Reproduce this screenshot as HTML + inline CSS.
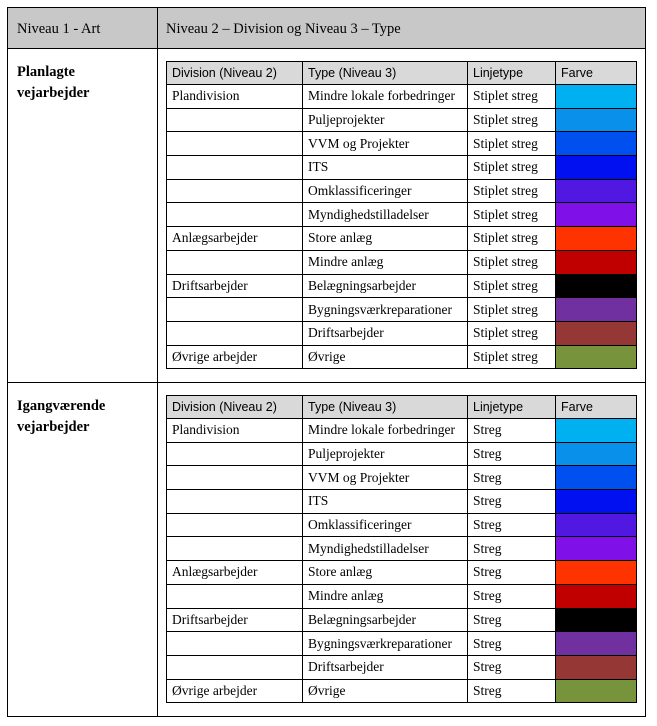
<!DOCTYPE html>
<html><head><meta charset="utf-8"><style>
body{margin:0;width:657px;height:726px;background:#fff;position:relative;font-family:"Liberation Serif",serif;color:#000;overflow:hidden}
.a{position:absolute}
.hl{position:absolute;background:#000;height:1px}
.vl{position:absolute;background:#000;width:1px}
table{position:absolute;left:166px;border-collapse:collapse;table-layout:fixed}
td{border:1px solid #000;padding:0 0 0 5px;font-size:13.5px;white-space:nowrap;overflow:hidden}
tr.h td{background:#d9d9d9;font-family:"Liberation Sans",sans-serif;font-size:12.5px;height:22px}
tr.r td{height:22.7px}
td.c{padding:0}
</style></head><body>
<div class="a" style="left:7px;top:7px;width:639px;height:41px;background:#c8c8c8"></div>
<div class="hl" style="left:7px;top:7px;width:639px"></div>
<div class="hl" style="left:7px;top:48px;width:639px"></div>
<div class="hl" style="left:7px;top:382px;width:639px"></div>
<div class="hl" style="left:7px;top:716px;width:639px"></div>
<div class="vl" style="left:7px;top:7px;height:710px"></div>
<div class="vl" style="left:157px;top:7px;height:710px"></div>
<div class="vl" style="left:645px;top:7px;height:710px"></div>
<div class="a" style="left:17px;top:21px;font-size:14.5px">Niveau 1 - Art</div>
<div class="a" style="left:166px;top:21px;font-size:14.5px">Niveau 2 – Division og Niveau 3 – Type</div>
<div class="a" style="left:17px;top:62px;font-size:14.5px;font-weight:bold;line-height:21px">Planlagte<br>vejarbejder</div>
<div class="a" style="left:17px;top:396px;font-size:14.5px;font-weight:bold;line-height:21px">Igangværende<br>vejarbejder</div>

<table style="top:61px"><colgroup><col style="width:136px"><col style="width:165px"><col style="width:88px"><col style="width:81px"></colgroup>
<tr class="h"><td>Division (Niveau 2)</td><td>Type (Niveau 3)</td><td>Linjetype</td><td>Farve</td></tr>
<tr class="r"><td>Plandivision</td><td>Mindre lokale forbedringer</td><td>Stiplet streg</td><td class="c" style="background:#00b0f0"></td></tr>
<tr class="r"><td></td><td>Puljeprojekter</td><td>Stiplet streg</td><td class="c" style="background:#0890ea"></td></tr>
<tr class="r"><td></td><td>VVM og Projekter</td><td>Stiplet streg</td><td class="c" style="background:#0050f0"></td></tr>
<tr class="r"><td></td><td>ITS</td><td>Stiplet streg</td><td class="c" style="background:#0010f0"></td></tr>
<tr class="r"><td></td><td>Omklassificeringer</td><td>Stiplet streg</td><td class="c" style="background:#5018e0"></td></tr>
<tr class="r"><td></td><td>Myndighedstilladelser</td><td>Stiplet streg</td><td class="c" style="background:#8010e8"></td></tr>
<tr class="r"><td>Anlægsarbejder</td><td>Store anlæg</td><td>Stiplet streg</td><td class="c" style="background:#ff3300"></td></tr>
<tr class="r"><td></td><td>Mindre anlæg</td><td>Stiplet streg</td><td class="c" style="background:#c00000"></td></tr>
<tr class="r"><td>Driftsarbejder</td><td>Belægningsarbejder</td><td>Stiplet streg</td><td class="c" style="background:#000"></td></tr>
<tr class="r"><td></td><td>Bygningsværkreparationer</td><td>Stiplet streg</td><td class="c" style="background:#7030a0"></td></tr>
<tr class="r"><td></td><td>Driftsarbejder</td><td>Stiplet streg</td><td class="c" style="background:#953735"></td></tr>
<tr class="r"><td>Øvrige arbejder</td><td>Øvrige</td><td>Stiplet streg</td><td class="c" style="background:#77933c"></td></tr>
</table>

<table style="top:395px"><colgroup><col style="width:136px"><col style="width:165px"><col style="width:88px"><col style="width:81px"></colgroup>
<tr class="h"><td>Division (Niveau 2)</td><td>Type (Niveau 3)</td><td>Linjetype</td><td>Farve</td></tr>
<tr class="r"><td>Plandivision</td><td>Mindre lokale forbedringer</td><td>Streg</td><td class="c" style="background:#00b0f0"></td></tr>
<tr class="r"><td></td><td>Puljeprojekter</td><td>Streg</td><td class="c" style="background:#0890ea"></td></tr>
<tr class="r"><td></td><td>VVM og Projekter</td><td>Streg</td><td class="c" style="background:#0050f0"></td></tr>
<tr class="r"><td></td><td>ITS</td><td>Streg</td><td class="c" style="background:#0010f0"></td></tr>
<tr class="r"><td></td><td>Omklassificeringer</td><td>Streg</td><td class="c" style="background:#5018e0"></td></tr>
<tr class="r"><td></td><td>Myndighedstilladelser</td><td>Streg</td><td class="c" style="background:#8010e8"></td></tr>
<tr class="r"><td>Anlægsarbejder</td><td>Store anlæg</td><td>Streg</td><td class="c" style="background:#ff3300"></td></tr>
<tr class="r"><td></td><td>Mindre anlæg</td><td>Streg</td><td class="c" style="background:#c00000"></td></tr>
<tr class="r"><td>Driftsarbejder</td><td>Belægningsarbejder</td><td>Streg</td><td class="c" style="background:#000"></td></tr>
<tr class="r"><td></td><td>Bygningsværkreparationer</td><td>Streg</td><td class="c" style="background:#7030a0"></td></tr>
<tr class="r"><td></td><td>Driftsarbejder</td><td>Streg</td><td class="c" style="background:#953735"></td></tr>
<tr class="r"><td>Øvrige arbejder</td><td>Øvrige</td><td>Streg</td><td class="c" style="background:#77933c"></td></tr>
</table>
</body></html>
